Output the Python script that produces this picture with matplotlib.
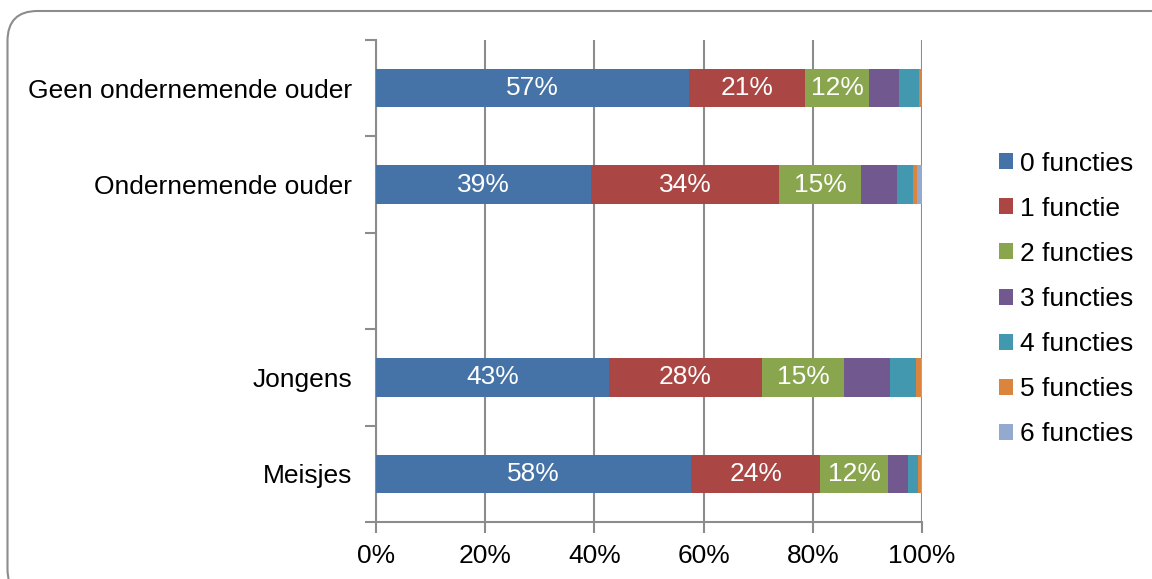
import matplotlib
matplotlib.use("Agg")
import matplotlib.pyplot as plt
from matplotlib.patches import FancyBboxPatch
from matplotlib.transforms import IdentityTransform
import numpy as np

plt.rcParams['font.family'] = ['Liberation Sans', 'DejaVu Sans']

# Data (percent of respondents per number of functions)
categories = ["Geen ondernemende ouder", "Ondernemende ouder", "Jongens", "Meisjes"]
series_names = ["0 functies", "1 functie", "2 functies", "3 functies",
                "4 functies", "5 functies", "6 functies"]
f0 = [57.3, 39.4, 42.6, 57.7]
f1 = [21.3, 34.4, 28.1, 23.7]
f2 = [11.7, 15.1, 15.1, 12.3]
f3 = [5.5, 6.5, 8.4, 3.7]
f4 = [3.7, 3.0, 4.7, 1.8]
f5 = [0.5, 0.7, 1.0, 0.6]
f6 = [0.0, 0.9, 0.1, 0.2]
x_ticks = [0, 20, 40, 60, 80, 100]
x_ticklabels = ["0%", "20%", "40%", "60%", "80%", "100%"]

colors = ["#4572A7", "#AA4643", "#89A54E", "#71588F",
          "#4198AF", "#DB843D", "#93A9CF"]
series = [f0, f1, f2, f3, f4, f5, f6]
labelled = 3  # value labels on the first three series
fs = 19

W, H = 1152, 579
fig = plt.figure(figsize=(W / 100, H / 100), dpi=100)
ax = fig.add_axes([376 / W, 1 - 522 / H, (922 - 376) / W, (522 - 40) / H])

# row slots: the two parent groups, a blank slot, then gender
slots = np.array([0, 1, 3, 4])
n_slots = 5
grid_col = "#8C8C8C"

left = np.zeros(len(categories))
for i, (name, vals, col) in enumerate(zip(series_names, series, colors)):
    vals = np.array(vals)
    ax.barh(slots, vals, left=left, height=0.4, color=col, label=name,
            zorder=3, linewidth=0)
    if i < labelled:
        for y, l, v in zip(slots, left, vals):
            ax.text(l + v / 2, y, f"{v:.0f}%", ha="center", va="center",
                    color="white", fontsize=fs, zorder=4)
    left += vals

ax.set_xlim(0, 100)
ax.set_ylim(n_slots - 0.5, -0.5)
ax.set_xticks(x_ticks)
ax.set_xticklabels(x_ticklabels, fontsize=fs)
ax.set_yticks(slots)
ax.set_yticklabels(categories, fontsize=fs)
ax.set_yticks(np.arange(-0.5, n_slots, 1.0), minor=True)
ax.tick_params(axis="y", which="major", length=0, pad=17)
ax.tick_params(axis="y", which="minor", length=8, width=1.5, color=grid_col)
ax.tick_params(axis="x", length=8, width=1.5, color=grid_col, pad=8)

ax.xaxis.grid(True, color=grid_col, linewidth=1.5, zorder=0)
for s in ["top", "right"]:
    ax.spines[s].set_visible(False)
for s in ["left", "bottom"]:
    ax.spines[s].set_color(grid_col)
    ax.spines[s].set_linewidth(1.5)
ax.set_axisbelow(True)

handles, labels = ax.get_legend_handles_labels()
fig.legend(handles, labels, loc="upper left",
           bbox_to_anchor=(988 / W, 1 - 141 / H), frameon=False,
           fontsize=fs, handlelength=0.55, handleheight=0.55,
           handletextpad=0.25, labelspacing=0.8, borderaxespad=0)

# rounded outer frame
frame = FancyBboxPatch((7.5, -20), 1180, H - 11 + 20,
                       boxstyle="round,pad=0,rounding_size=30",
                       transform=IdentityTransform(), facecolor="none",
                       edgecolor="#8C8C8C", linewidth=1.5)
fig.patches.append(frame)

fig.savefig("out.png", dpi=100)
